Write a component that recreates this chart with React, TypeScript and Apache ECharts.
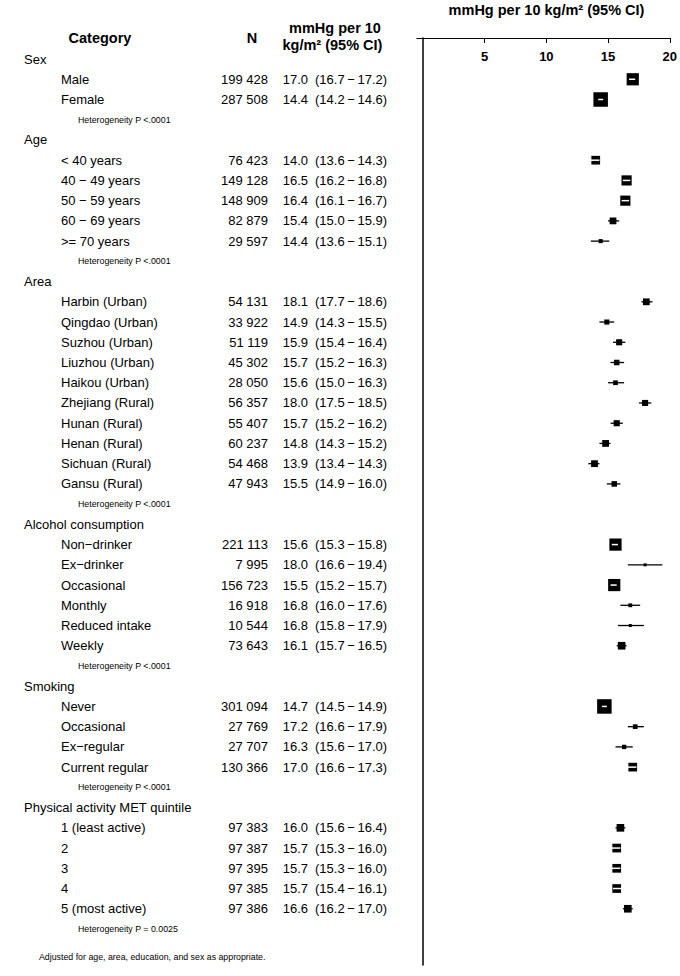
import React, { useEffect, useRef } from "react";
import * as echarts from "echarts";

const sectionNames = [
  "Sex",
  "Age",
  "Area",
  "Alcohol consumption",
  "Smoking",
  "Physical activity MET quintile",
];
const heterogeneityText = [
  "Heterogeneity P <.0001",
  "Heterogeneity P <.0001",
  "Heterogeneity P <.0001",
  "Heterogeneity P <.0001",
  "Heterogeneity P <.0001",
  "Heterogeneity P = 0.0025",
];
const categoryLabels = [
  "Male", "Female",
  "< 40 years", "40 \u2212 49 years", "50 \u2212 59 years", "60 \u2212 69 years", ">= 70 years",
  "Harbin (Urban)", "Qingdao (Urban)", "Suzhou (Urban)", "Liuzhou (Urban)", "Haikou (Urban)",
  "Zhejiang (Rural)", "Hunan (Rural)", "Henan (Rural)", "Sichuan (Rural)", "Gansu (Rural)",
  "Non\u2212drinker", "Ex\u2212drinker", "Occasional", "Monthly", "Reduced intake", "Weekly",
  "Never", "Occasional", "Ex\u2212regular", "Current regular",
  "1 (least active)", "2", "3", "4", "5 (most active)",
];
const categorySection = [
  0, 0,
  1, 1, 1, 1, 1,
  2, 2, 2, 2, 2, 2, 2, 2, 2, 2,
  3, 3, 3, 3, 3, 3,
  4, 4, 4, 4,
  5, 5, 5, 5, 5,
];
const participants = [
  199428, 287508,
  76423, 149128, 148909, 82879, 29597,
  54131, 33922, 51119, 45302, 28050, 56357, 55407, 60237, 54468, 47943,
  221113, 7995, 156723, 16918, 10544, 73643,
  301094, 27769, 27707, 130366,
  97383, 97387, 97395, 97385, 97386,
];
const estimates = [
  17.0, 14.4,
  14.0, 16.5, 16.4, 15.4, 14.4,
  18.1, 14.9, 15.9, 15.7, 15.6, 18.0, 15.7, 14.8, 13.9, 15.5,
  15.6, 18.0, 15.5, 16.8, 16.8, 16.1,
  14.7, 17.2, 16.3, 17.0,
  16.0, 15.7, 15.7, 15.7, 16.6,
];
const ciLower = [
  16.7, 14.2,
  13.6, 16.2, 16.1, 15.0, 13.6,
  17.7, 14.3, 15.4, 15.2, 15.0, 17.5, 15.2, 14.3, 13.4, 14.9,
  15.3, 16.6, 15.2, 16.0, 15.8, 15.7,
  14.5, 16.6, 15.6, 16.6,
  15.6, 15.3, 15.3, 15.4, 16.2,
];
const ciUpper = [
  17.2, 14.6,
  14.3, 16.8, 16.7, 15.9, 15.1,
  18.6, 15.5, 16.4, 16.3, 16.3, 18.5, 16.2, 15.2, 14.3, 16.0,
  15.8, 19.4, 15.7, 17.6, 17.9, 16.5,
  14.9, 17.9, 17.0, 17.3,
  16.4, 16.0, 16.0, 16.1, 17.0,
];
const xTickValues = [5, 10, 15, 20];
const axisTitle = "mmHg per 10 kg/m\u00b2 (95% CI)";
const headerCategory = "Category";
const headerN = "N";
const headerEffect1 = "mmHg per 10";
const headerEffect2 = "kg/m\u00b2 (95% CI)";
const footnote = "Adjusted for age, area, education, and sex as appropriate.";

const FONT = "'Liberation Sans', Arial, Helvetica, sans-serif";

type Row = { kind: "section" | "item" | "het"; text: string; idx: number };

function buildRows(): Row[] {
  const rows: Row[] = [];
  sectionNames.forEach((name, s) => {
    rows.push({ kind: "section", text: name, idx: -1 });
    categoryLabels.forEach((lab, i) => {
      if (categorySection[i] === s) rows.push({ kind: "item", text: lab, idx: i });
    });
    rows.push({ kind: "het", text: heterogeneityText[s], idx: -1 });
  });
  return rows;
}

const fmtN = (n: number) => String(n).replace(/\B(?=(\d{3})+(?!\d))/g, " ");

export default function App() {
  const ref = useRef<HTMLDivElement>(null);
  useEffect(() => {
    if (!ref.current) return;
    const chart = echarts.init(ref.current, undefined, { renderer: "svg" });
    const rows = buildRows();
    const forestData: number[][] = [];
    rows.forEach((r, i) => {
      if (r.kind === "item") forestData.push([estimates[r.idx], i, ciLower[r.idx], ciUpper[r.idx]]);
    });

    const txt = (text: string, x: number, y: number, size: number, align: string, weight = "normal") => ({
      type: "text",
      style: {
        text,
        x,
        y,
        fill: "#000",
        fontSize: size,
        fontFamily: FONT,
        fontWeight: weight,
        align,
        verticalAlign: "middle",
      },
    });

    const option: any = {
      animation: false,
      backgroundColor: "#fff",
      grid: { left: 416.8, right: 10, top: 38, bottom: 11, containLabel: false },
      xAxis: {
        type: "value",
        position: "top",
        min: -0.5,
        max: 20,
        axisLine: { show: true, onZero: false, lineStyle: { color: "#000", width: 1 } },
        axisTick: { show: true, inside: true, length: 5, customValues: xTickValues, lineStyle: { color: "#000", width: 1 } },
        axisLabel: {
          show: true,
          inside: true,
          margin: 12,
          customValues: xTickValues,
          color: "#000",
          fontSize: 13,
          fontWeight: "bold",
          fontFamily: FONT,
        },
        splitLine: { show: false },
      },
      yAxis: {
        type: "value",
        inverse: true,
        min: -1.04,
        max: 44.78,
        axisLine: { show: true, onZero: true, lineStyle: { color: "#000", width: 1.5 } },
        axisTick: { show: false },
        axisLabel: { show: false },
        splitLine: { show: false },
      },
      graphic: [
        txt(axisTitle, 546.5, 10, 14.5, "center", "bold"),
        txt(headerCategory, 100, 38, 14.5, "center", "bold"),
        txt(headerN, 252, 38, 14.5, "center", "bold"),
        txt(headerEffect1, 335, 28, 14.5, "center", "bold"),
        txt(headerEffect2, 332.5, 45, 14.5, "center", "bold"),
        txt(footnote, 39, 957, 8.8, "left"),
      ],
      series: [
        {
          type: "custom",
          name: "table",
          clip: false,
          silent: true,
          encode: { x: 0, y: 1 },
          data: rows.map((_, i) => [0, i]),
          renderItem: (params: any, api: any) => {
            const row = rows[params.dataIndex];
            const y = api.coord([0, api.value(1)])[1];
            if (row.kind === "section") return txt(row.text, 24, y, 13, "left");
            if (row.kind === "het") return txt(row.text, 78, y, 8.8, "left");
            const i = row.idx;
            return {
              type: "group",
              children: [
                txt(row.text, 61, y, 13, "left"),
                txt(fmtN(participants[i]), 268, y, 13, "right"),
                txt(estimates[i].toFixed(1), 282.7, y, 13, "left"),
                txt(
                  "(" + ciLower[i].toFixed(1) + "\u2009\u2212\u2009" + ciUpper[i].toFixed(1) + ")",
                  315,
                  y,
                  13,
                  "left"
                ),
              ],
            };
          },
        },
        {
          type: "custom",
          name: "forest",
          clip: false,
          encode: { x: 0, y: 1 },
          data: forestData,
          renderItem: (params: any, api: any) => {
            const est = api.value(0);
            const row = api.value(1);
            const lo = api.value(2);
            const hi = api.value(3);
            const c = api.coord([est, row]);
            const pl = api.coord([lo, row]);
            const ph = api.coord([hi, row]);
            const side = Math.min(14.5, Math.max(3, 6.1 / (hi - lo)));
            const ciW = ph[0] - pl[0];
            const inside = ciW < side;
            const children: any[] = [];
            if (!inside) {
              children.push({
                type: "line",
                shape: { x1: pl[0], y1: c[1], x2: ph[0], y2: c[1] },
                style: { stroke: "#000", lineWidth: 1.3 },
              });
            }
            children.push({
              type: "rect",
              shape: { x: c[0] - side / 2, y: c[1] - side / 2, width: side, height: side },
              style: { fill: "#000" },
            });
            if (inside) {
              children.push({
                type: "line",
                shape: { x1: pl[0], y1: c[1], x2: ph[0], y2: c[1] },
                style: { stroke: "#fff", lineWidth: 1.5 },
              });
            }
            return { type: "group", children };
          },
        },
      ],
    };
    chart.setOption(option);
    return () => chart.dispose();
  }, []);
  return (
    <div
      ref={ref}
      style={{ position: "fixed", left: 0, top: 0, width: 680, height: 976, background: "#fff" }}
    />
  );
}
